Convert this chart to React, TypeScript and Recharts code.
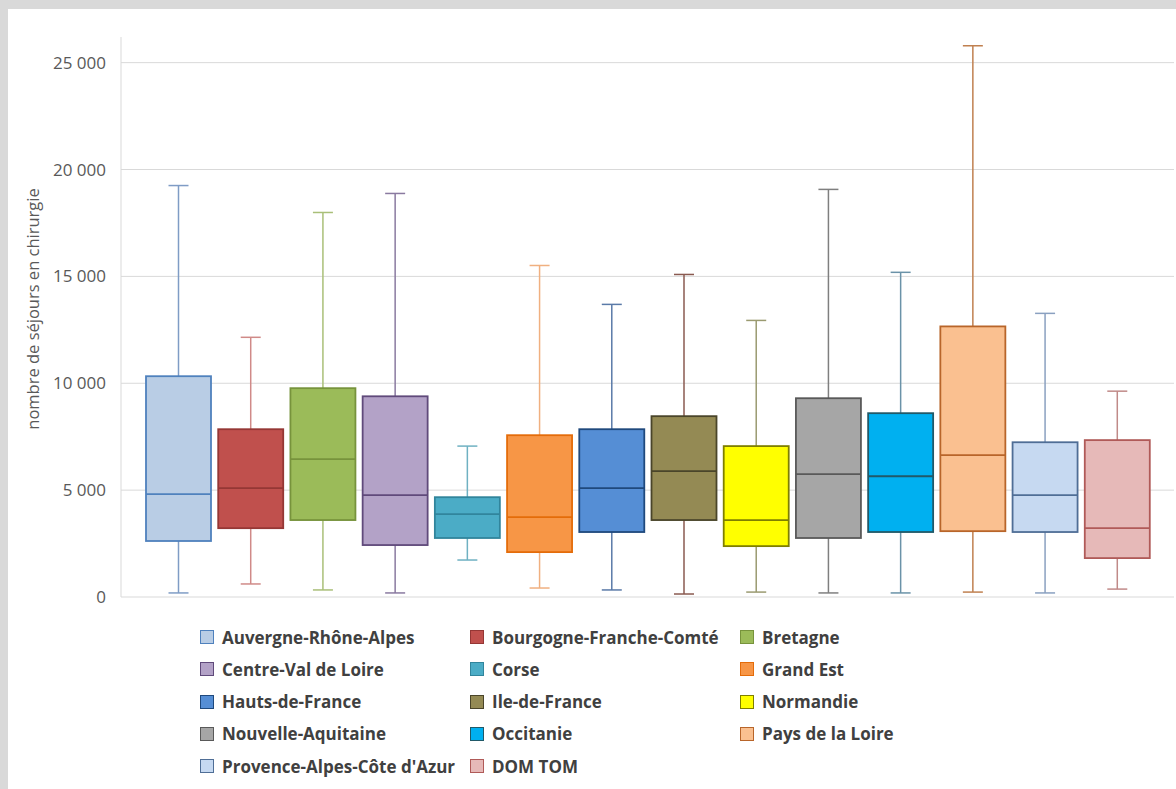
import { ComposedChart, Bar, XAxis, YAxis, CartesianGrid } from 'recharts';

const REGIONS = [
  'Auvergne-Rhône-Alpes', 'Bourgogne-Franche-Comté', 'Bretagne', 'Centre-Val de Loire', 'Corse',
  'Grand Est', 'Hauts-de-France', 'Ile-de-France', 'Normandie', 'Nouvelle-Aquitaine',
  'Occitanie', 'Pays de la Loire', "Provence-Alpes-Côte d'Azur", 'DOM TOM',
];
const MIN = [190, 610, 330, 190, 1730, 420, 330, 140, 230, 190, 190, 230, 190, 370];
const Q1 = [2620, 3220, 3600, 2430, 2760, 2100, 3040, 3600, 2380, 2760, 3040, 3080, 3040, 1820];
const MEDIAN = [4810, 5090, 6450, 4770, 3880, 3740, 5090, 5890, 3600, 5750, 5650, 6640, 4770, 3220];
const Q3 = [10330, 7850, 9770, 9390, 4670, 7570, 7850, 8460, 7060, 9300, 8600, 12660, 7240, 7340];
const MAX = [19250, 12150, 17990, 18880, 7060, 15510, 13690, 15090, 12940, 19070, 15190, 25790, 13270, 9630];

const FILLS = ['#b9cde5', '#c0504d', '#9bbb59', '#b3a2c7', '#4bacc6', '#f79646', '#558ed5',
  '#948a54', '#ffff00', '#a6a6a6', '#00b0f0', '#fac090', '#c6d9f1', '#e6b9b8'];
const STROKES = ['#4f81bd', '#953735', '#77933c', '#604a7b', '#31859c', '#e46c0a', '#1f497d',
  '#4a452a', '#7f7f00', '#595959', '#215968', '#b8652a', '#4f6e96', '#b05a58'];
const WHISKERS = ['#7f9cc5', '#d08a88', '#a9bf78', '#8a7aa0', '#6fb1c2', '#f0b080', '#5a7aa8',
  '#8a5a50', '#9a9a70', '#7f7f7f', '#6a92a8', '#c08050', '#8aa0c0', '#c08a88'];

const Y_TICKS = [0, 5000, 10000, 15000, 20000, 25000];

const data = REGIONS.map((name, i) => ({
  name,
  range: [MIN[i], MAX[i]],
  min: MIN[i], q1: Q1[i], median: MEDIAN[i], q3: Q3[i], max: MAX[i],
  fill: FILLS[i], stroke: STROKES[i], whisker: WHISKERS[i],
}));

const fmt = (v: number) => (v === 0 ? '0' : `${Math.floor(v / 1000)} ${String(v % 1000).padStart(3, '0')}`);

const BoxShape = (props: any) => {
  const { x, y, width, height, payload } = props;
  const p = payload;
  const py = (v: number) => y + (height * (p.max - v)) / (p.max - p.min);
  const cx = x + width / 2;
  const cap = 10;
  return (
    <g>
      <line x1={cx} x2={cx} y1={py(p.max)} y2={py(p.q3)} stroke={p.whisker} strokeWidth={1.5} />
      <line x1={cx} x2={cx} y1={py(p.q1)} y2={py(p.min)} stroke={p.whisker} strokeWidth={1.5} />
      <line x1={cx - cap} x2={cx + cap} y1={py(p.max)} y2={py(p.max)} stroke={p.whisker} strokeWidth={1.5} />
      <line x1={cx - cap} x2={cx + cap} y1={py(p.min)} y2={py(p.min)} stroke={p.whisker} strokeWidth={1.5} />
      <rect x={x} y={py(p.q3)} width={width} height={py(p.q1) - py(p.q3)} fill={p.fill} stroke={p.stroke} strokeWidth={1.8} />
      <line x1={x} x2={x + width} y1={py(p.median)} y2={py(p.median)} stroke={p.stroke} strokeWidth={1.8} />
    </g>
  );
};

export default function App() {
  const font = '"Open Sans", sans-serif';
  return (
    <div style={{ position: 'absolute', left: 0, top: 0, width: 1176, height: 789, background: '#d9d9d9', overflow: 'hidden', fontFamily: font }}>
      <div style={{ position: 'absolute', left: 8, top: 9, width: 1168, height: 780, background: '#ffffff' }} />
      <div style={{ position: 'absolute', left: 0, top: 0 }}>
        <ComposedChart width={1180} height={789} data={data} margin={{ top: 37, right: 6, bottom: 192, left: 21 }}>
          <CartesianGrid vertical={false} verticalPoints={[]} horizontalValues={Y_TICKS} stroke="#d9d9d9" />
          <XAxis dataKey="name" type="category" hide padding={{ left: 21, right: 21 }} />
          <YAxis
            type="number"
            domain={[0, 26200]}
            ticks={Y_TICKS}
            tickFormatter={fmt}
            width={100}
            axisLine={{ stroke: '#d9d9d9' }}
            tickLine={false}
            tickMargin={9}
            tick={{ fontSize: 17, fill: '#595959', fontFamily: font }}
          />
          <Bar dataKey="range" barSize={65} shape={BoxShape} isAnimationActive={false} />
        </ComposedChart>
      </div>
      <div
        style={{
          position: 'absolute', left: 32, top: 309, transform: 'translate(-50%, -50%) rotate(-90deg)',
          fontSize: 16.5, color: '#595959', whiteSpace: 'nowrap',
        }}
      >
        nombre de séjours en chirurgie
      </div>
      {REGIONS.map((name, i) => {
        const col = i % 3;
        const row = Math.floor(i / 3);
        const left = 200 + col * 270;
        const top = 637 + row * 32.25;
        return (
          <div key={name} style={{ position: 'absolute', left, top: top - 12, height: 24, display: 'flex', alignItems: 'center', whiteSpace: 'nowrap' }}>
            <div style={{ width: 12, height: 12, background: FILLS[i], border: `1px solid ${STROKES[i]}`, marginRight: 8 }} />
            <span style={{ fontSize: 17, fontWeight: 700, color: '#404040' }}>{name}</span>
          </div>
        );
      })}
    </div>
  );
}
